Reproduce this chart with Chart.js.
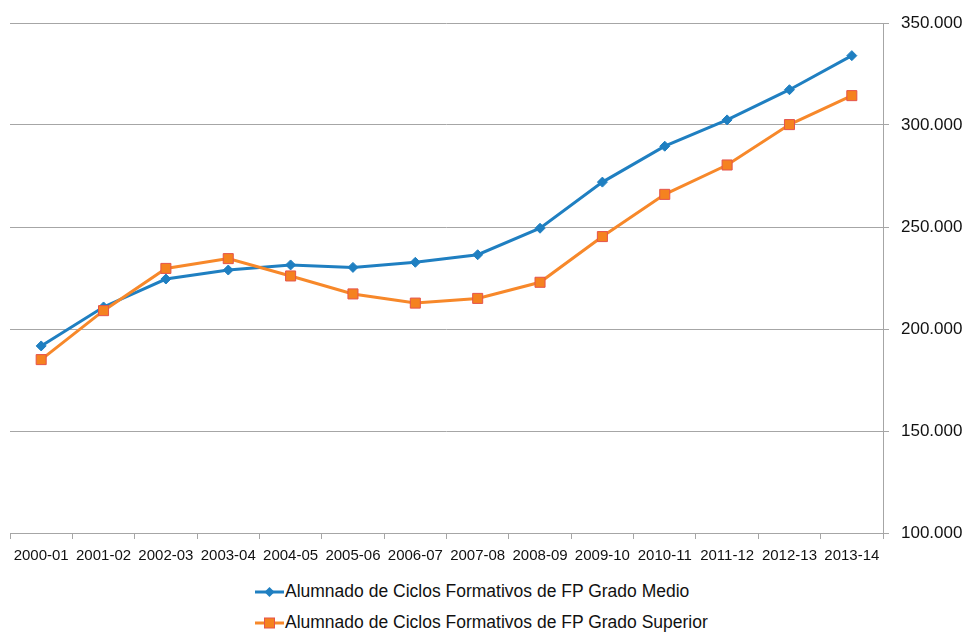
<!DOCTYPE html>
<html lang="es">
<head>
  <meta charset="UTF-8" />
  <title>Alumnado de Ciclos Formativos de FP</title>
  <script src="https://cdn.jsdelivr.net/npm/chart.js"></script>
  <style>
    body { margin: 0; background: #fff; }
    .wrap { position: relative; width: 968px; height: 632px; }
    #fpChart { position: absolute; left: 0; top: 0; }
    .legend { position: absolute; left: 255px; top: 576px; font-family: "Liberation Sans", Arial, sans-serif; font-size: 17.5px; color: #111; }
    .legend-item { display: flex; align-items: center; height: 31px; white-space: nowrap; }
    .legend-item svg { margin-right: 1px; }
  </style>
</head>
<body>
  <div class="wrap">
    <canvas id="fpChart" width="968" height="568"></canvas>
    <div class="legend">
      <div class="legend-item">
        <svg width="29" height="14"><line x1="0" y1="7" x2="29" y2="7" stroke="#1f7fc1" stroke-width="3"/><polygon points="14.5,2 19.5,7 14.5,12 9.5,7" fill="#1f7fc1"/></svg>
        <span>Alumnado de Ciclos Formativos de FP Grado Medio</span>
      </div>
      <div class="legend-item">
        <svg width="29" height="14"><line x1="0" y1="7" x2="29" y2="7" stroke="#f7882a" stroke-width="3"/><rect x="9.5" y="2" width="10" height="10" fill="#f5821f" stroke="#e5534b" stroke-width="1"/></svg>
        <span>Alumnado de Ciclos Formativos de FP Grado Superior</span>
      </div>
    </div>
  </div>

  <script>
    // Cursos escolares
    const cursos = ['2000-01', '2001-02', '2002-03', '2003-04', '2004-05', '2005-06', '2006-07',
                    '2007-08', '2008-09', '2009-10', '2010-11', '2011-12', '2012-13', '2013-14'];

    // Alumnado
    const gradoMedio = [191700, 210800, 224500, 228900, 231400, 230200, 232700,
                        236400, 249400, 272000, 289600, 302500, 317300, 334000];
    const gradoSuperior = [185000, 209000, 229700, 234500, 226000, 217200, 212700,
                           215000, 222900, 245300, 266000, 280400, 300200, 314400];

    const yTicks = [100000, 150000, 200000, 250000, 300000, 350000];

    const fontFamily = '"Liberation Sans", Arial, sans-serif';
    const gridGray = '#a6a6a6';

    const ctx = document.getElementById('fpChart').getContext('2d');
    const fpChart = new Chart(ctx, {
      type: 'line',
      data: {
        labels: cursos,
        datasets: [
          {
            label: 'Alumnado de Ciclos Formativos de FP Grado Medio',
            data: gradoMedio,
            borderColor: '#1f7fc1',
            backgroundColor: '#1f7fc1',
            borderWidth: 3,
            pointStyle: 'rectRot',
            pointRadius: 5,
            pointBorderWidth: 1,
            pointBorderColor: '#1f7fc1',
            tension: 0,
            order: 1
          },
          {
            label: 'Alumnado de Ciclos Formativos de FP Grado Superior',
            data: gradoSuperior,
            borderColor: '#f7882a',
            backgroundColor: '#f5821f',
            borderWidth: 3,
            pointStyle: 'rect',
            pointRadius: 7.1,
            pointBorderWidth: 1,
            pointBorderColor: '#e5534b',
            tension: 0,
            order: 0
          }
        ]
      },
      options: {
        responsive: false,
        devicePixelRatio: 1,
        animation: false,
        layout: { padding: { left: 10, right: 0, top: 23, bottom: 0 } },
        plugins: {
          legend: { display: false },
          tooltip: { enabled: false }
        },
        scales: {
          x: {
            offset: true,
            grid: {
              offset: true,
              drawOnChartArea: false,
              drawTicks: true,
              tickLength: 6,
              color: gridGray
            },
            border: { color: gridGray },
            ticks: {
              color: '#111',
              font: { family: fontFamily, size: 15 },
              padding: 8,
              maxRotation: 0,
              autoSkip: false
            },
            afterFit: (scale) => { scale.height = 35; }
          },
          y: {
            position: 'right',
            min: 100000,
            max: 350000,
            afterBuildTicks: (scale) => { scale.ticks = yTicks.map(v => ({ value: v })); },
            grid: {
              color: gridGray,
              drawTicks: true,
              tickLength: 6
            },
            border: { color: gridGray },
            ticks: {
              color: '#111',
              font: { family: fontFamily, size: 17 },
              padding: 12,
              callback: (v) => v.toLocaleString('de-DE')
            },
            afterFit: (scale) => { scale.width = 85; }
          }
        }
      }
    });
  </script>
</body>
</html>
